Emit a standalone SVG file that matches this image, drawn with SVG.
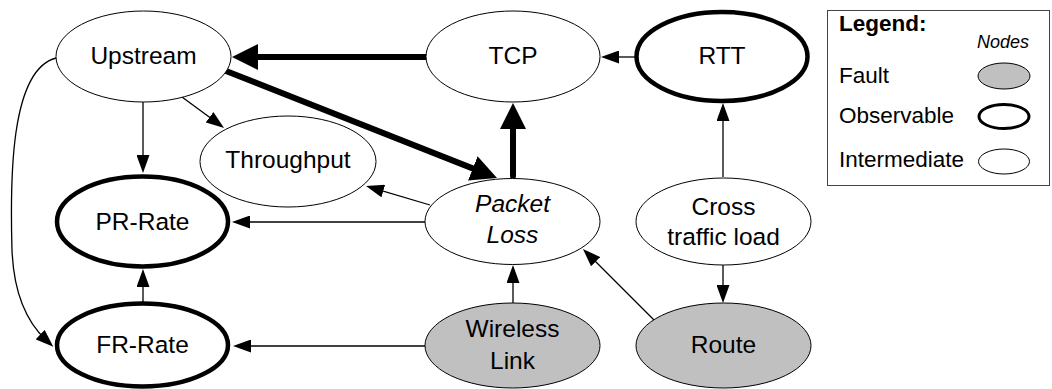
<svg xmlns="http://www.w3.org/2000/svg" width="1052" height="389" viewBox="0 0 1052 389">
<style>
.n{fill:#fff;stroke:#000;stroke-width:1}
.o{fill:#fff;stroke:#000;stroke-width:4.5}
.f{fill:#c0c0c0;stroke:#000;stroke-width:1}
text{font-family:"Liberation Sans",Arial,sans-serif;fill:#000}
.t{font-size:24.5px;text-anchor:middle}
.i{font-style:italic}
.lg{font-size:22.5px}
.e{fill:none;stroke:#000;stroke-width:1.3;marker-end:url(#s)}
.b{fill:none;stroke:#000;stroke-width:6;stroke-linecap:round;marker-end:url(#B)}
</style>
<defs>
<marker id="B" markerUnits="userSpaceOnUse" markerWidth="26" markerHeight="26" refX="10" refY="13" orient="auto" viewBox="0 0 26 26"><polygon points="0,0 26,13 0,26" fill="#000"/></marker>
<marker id="s" markerUnits="userSpaceOnUse" markerWidth="18" markerHeight="13" refX="8" refY="6.5" orient="auto" viewBox="0 0 18 13"><polygon points="0,0 18,6.5 0,13" fill="#000"/></marker>
</defs>
<g id="connectors">
<path class="b" d="M426,57 L248,57"/>
<path class="b" d="M226,71 L482.1,172.1"/>
<path class="b" d="M513,176 L513,119"/>
<path class="e" d="M635,57 L611,57"/>
<path class="e" d="M723,177 L723,113"/>
<path class="e" d="M143,102 L143,163"/>
<path class="e" d="M182,97 L216,122"/>
<path class="e" d="M430,205 L375.6,188.8"/>
<path class="e" d="M425,222 L242,222"/>
<path class="e" d="M143,302 L143,279"/>
<path class="e" d="M425,346 L243,346"/>
<path class="e" d="M513,303 L513,275"/>
<path class="e" d="M657,323 L590,256"/>
<path class="e" d="M723,265 L723,293"/>
<path class="e" d="M56,58 C10,70 10,180 12,250 C14,300 30,325 46,340"/>
</g>
<g id="upstream"><ellipse class="n" cx="143.5" cy="56.5" rx="87.5" ry="45.5"/><text class="t" x="143.5" y="64">Upstream</text></g>
<g id="tcp"><ellipse class="n" cx="513" cy="56.5" rx="87" ry="45.5"/><text class="t" x="513" y="64">TCP</text></g>
<g id="rtt"><ellipse class="o" cx="722" cy="56.5" rx="85.5" ry="44.5"/><text class="t" x="722" y="64">RTT</text></g>
<g id="throughput"><ellipse class="n" cx="288" cy="161.5" rx="88" ry="45.5"/><text class="t" x="288" y="168">Throughput</text></g>
<g id="prrate"><ellipse class="o" cx="142.5" cy="221.5" rx="85.5" ry="45"/><text class="t" x="142.5" y="230">PR-Rate</text></g>
<g id="packetloss"><ellipse class="n" cx="512.5" cy="221.5" rx="87.5" ry="43"/><text class="t i" x="512.5" y="212">Packet</text><text class="t i" x="512.5" y="243">Loss</text></g>
<g id="crosstraffic"><ellipse class="n" cx="723.5" cy="221.5" rx="87.5" ry="43.5"/><text class="t" x="723.5" y="215">Cross</text><text class="t" x="723.5" y="245">traffic load</text></g>
<g id="frrate"><ellipse class="o" cx="142.5" cy="345" rx="85.5" ry="41.5"/><text class="t" x="142.5" y="353">FR-Rate</text></g>
<g id="wireless"><ellipse class="f" cx="512.5" cy="345.5" rx="87.5" ry="42.5"/><text class="t" x="512.5" y="337">Wireless</text><text class="t" x="512.5" y="369">Link</text></g>
<g id="route"><ellipse class="f" cx="723.5" cy="345.5" rx="87.5" ry="42.5"/><text class="t" x="723.5" y="353">Route</text></g>
<g id="legend">
<rect x="827.5" y="10.5" width="222" height="175" fill="#fff" stroke="#444" stroke-width="1"/>
<text class="lg" x="839" y="31" font-weight="bold">Legend:</text>
<text x="977" y="48" font-size="18" font-style="italic">Nodes</text>
<text class="lg" x="839" y="83">Fault</text>
<ellipse class="f" cx="1004" cy="76" rx="26" ry="13"/>
<text class="lg" x="839" y="123">Observable</text>
<ellipse fill="#fff" stroke="#000" stroke-width="3" cx="1004" cy="116.5" rx="25" ry="12"/>
<text class="lg" x="839" y="167">Intermediate</text>
<ellipse class="n" cx="1004" cy="161.5" rx="25.5" ry="12.5"/>
</g>
</svg>
